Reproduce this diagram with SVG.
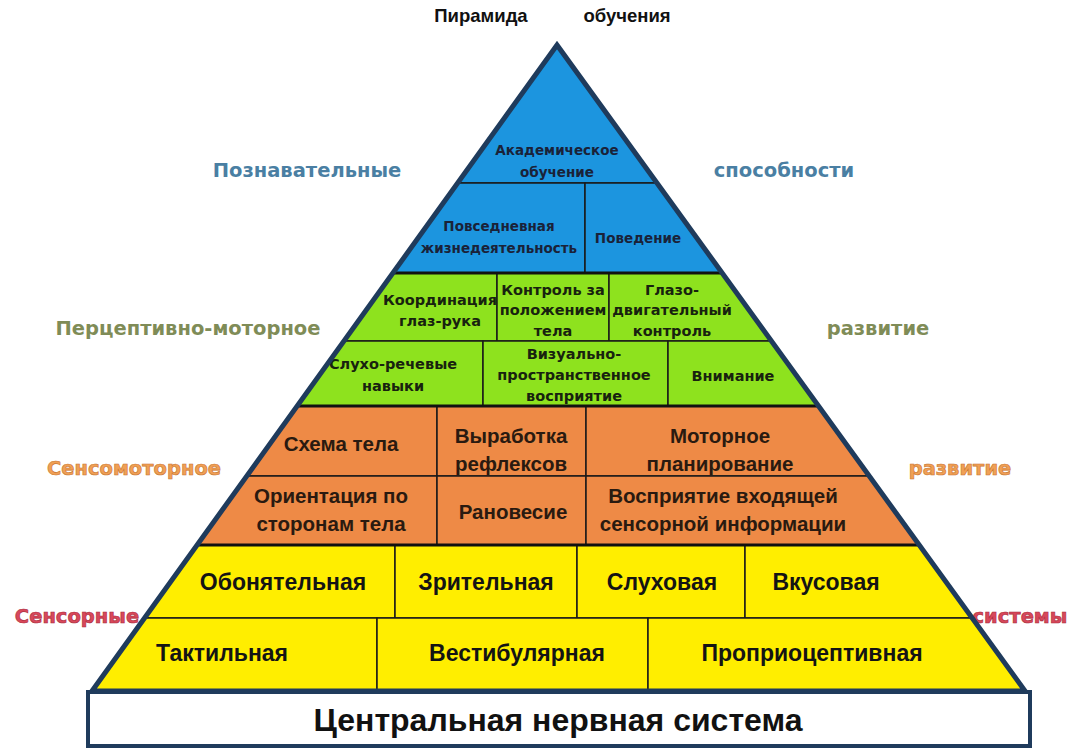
<svg xmlns="http://www.w3.org/2000/svg" width="1071" height="756" viewBox="0 0 1071 756">
<style>
.cell{stroke:#1a1a1a;stroke-width:1.5;stroke-linejoin:miter}
.blue{fill:#1c95df}
.green{fill:#8ee21e}
.orange{fill:#ee8a46}
.yellow{fill:#ffee00}
.tb{font-family:"DejaVu Sans",sans-serif;font-weight:bold;font-size:13.5px;fill:#1a2238;text-anchor:middle}
.tg{font-family:"DejaVu Sans",sans-serif;font-weight:bold;font-size:14.5px;fill:#18220f;text-anchor:middle}
.to{font-family:"Liberation Sans",Arial,sans-serif;font-weight:bold;font-size:20.5px;fill:#2a1a10;text-anchor:middle}
.ty{font-family:"Liberation Sans",Arial,sans-serif;font-weight:bold;font-size:23px;fill:#141414;text-anchor:middle}
.side{font-family:"DejaVu Sans",sans-serif;font-weight:bold;font-size:19.5px;text-anchor:middle}
.band{stroke:#111;stroke-width:3}
</style>
<rect width="1071" height="756" fill="#ffffff"/>
<g id="title">
<text x="481" y="22" style="font-family:'Liberation Sans',Arial,sans-serif;font-weight:bold;font-size:18.5px;fill:#111;text-anchor:middle">Пирамида</text>
<text x="627" y="22" style="font-family:'Liberation Sans',Arial,sans-serif;font-weight:bold;font-size:18.5px;fill:#111;text-anchor:middle">обучения</text>
</g>
<g id="side-labels">
<text class="side" x="307" y="177" fill="#4a7fa3">Познавательные</text>
<text class="side" x="784" y="177" fill="#4a7fa3">способности</text>
<text class="side" x="188" y="335" fill="#7f8c57">Перцептивно-моторное</text>
<text class="side" x="878" y="335" fill="#7f8c57">развитие</text>
<text class="side" x="134" y="475" fill="#f0a055" stroke="#c9742f" stroke-width="0.6">Сенсомоторное</text>
<text class="side" x="960" y="475" fill="#f0a055" stroke="#c9742f" stroke-width="0.6">развитие</text>
<text class="side" x="77" y="623" fill="#d8485a" stroke="#a8283a" stroke-width="0.6">Сенсорные</text>
<text class="side" x="1020" y="623" fill="#d8485a" stroke="#a8283a" stroke-width="0.6">системы</text>
</g>
<g id="academic"><polygon class="cell blue" points="557,45 657,183 457.7,183"/>
<text class="tb" x="557" y="155">Академическое</text><text class="tb" x="557" y="177">обучение</text></g>
<g id="daily"><polygon class="cell blue" points="457.7,183 585,183 585,273 392.9,273"/>
<text class="tb" x="499" y="231">Повседневная</text><text class="tb" x="499" y="253">жизнедеятельность</text></g>
<g id="behavior"><polygon class="cell blue" points="585,183 657,183 722.2,273 585,273"/>
<text class="tb" x="638" y="243">Поведение</text></g>
<g id="eye-hand"><polygon class="cell green" points="392.9,273 497,273 497,341 344,341"/>
<text class="tg" x="440" y="305">Координация</text><text class="tg" x="440" y="326">глаз-рука</text></g>
<g id="body-position"><polygon class="cell green" points="497,273 609,273 609,341 497,341"/>
<text class="tg" x="553" y="295">Контроль за</text><text class="tg" x="553" y="315">положением</text><text class="tg" x="553" y="336">тела</text></g>
<g id="oculomotor"><polygon class="cell green" points="609,273 722.2,273 771.5,341 609,341"/>
<text class="tg" x="672" y="295">Глазо-</text><text class="tg" x="672" y="315">двигательный</text><text class="tg" x="672" y="336">контроль</text></g>
<g id="auditory-speech"><polygon class="cell green" points="344,341 483,341 483,406 297.1,406"/>
<text class="tg" x="393" y="369">Слухо-речевые</text><text class="tg" x="393" y="391">навыки</text></g>
<g id="visual-spatial"><polygon class="cell green" points="483,341 668,341 668,406 483,406"/>
<text class="tg" x="574" y="359">Визуально-</text><text class="tg" x="574" y="380">пространственное</text><text class="tg" x="574" y="401">восприятие</text></g>
<g id="attention"><polygon class="cell green" points="668,341 771.5,341 818.5,406 668,406"/>
<text class="tg" x="733" y="381">Внимание</text></g>
<g id="body-scheme"><polygon class="cell orange" points="297.1,406 437,406 437,476 246.8,476"/>
<text class="to" x="341" y="451">Схема тела</text></g>
<g id="reflexes"><polygon class="cell orange" points="437,406 586,406 586,476 437,476"/>
<text class="to" x="511" y="443">Выработка</text><text class="to" x="511" y="471">рефлексов</text></g>
<g id="motor-planning"><polygon class="cell orange" points="586,406 818.5,406 869.3,476 586,476"/>
<text class="to" x="720" y="443">Моторное</text><text class="to" x="720" y="471">планирование</text></g>
<g id="body-sides"><polygon class="cell orange" points="246.8,476 437,476 437,545 197.1,545"/>
<text class="to" x="331" y="503">Ориентация по</text><text class="to" x="331" y="531">сторонам тела</text></g>
<g id="balance"><polygon class="cell orange" points="437,476 586,476 586,545 437,545"/>
<text class="to" x="513" y="519">Рановесие</text></g>
<g id="sensory-input"><polygon class="cell orange" points="586,476 869.3,476 919.3,545 586,545"/>
<text class="to" x="723" y="503">Восприятие входящей</text><text class="to" x="723" y="531">сенсорной информации</text></g>
<g id="olfactory"><polygon class="cell yellow" points="197.1,545 395,545 395,618 144.6,618"/>
<text class="ty" x="283" y="590">Обонятельная</text></g>
<g id="visual"><polygon class="cell yellow" points="395,545 577,545 577,618 395,618"/>
<text class="ty" x="486" y="590">Зрительная</text></g>
<g id="auditory"><polygon class="cell yellow" points="577,545 745,545 745,618 577,618"/>
<text class="ty" x="662" y="590">Слуховая</text></g>
<g id="gustatory"><polygon class="cell yellow" points="745,545 919.3,545 972.1,618 745,618"/>
<text class="ty" x="826" y="590">Вкусовая</text></g>
<g id="tactile"><polygon class="cell yellow" points="144.6,618 377,618 377,691 92,691"/>
<text class="ty" x="222" y="661">Тактильная</text></g>
<g id="vestibular"><polygon class="cell yellow" points="377,618 648,618 648,691 377,691"/>
<text class="ty" x="517" y="661">Вестибулярная</text></g>
<g id="proprioceptive"><polygon class="cell yellow" points="648,618 972.1,618 1025,691 648,691"/>
<text class="ty" x="812" y="661">Проприоцептивная</text></g>
<g id="connectors">
<line class="band" x1="392.9" y1="273" x2="722.2" y2="273"/>
<line class="band" x1="297.1" y1="406" x2="818.5" y2="406"/>
<line class="band" x1="197.1" y1="545" x2="919.3" y2="545"/>
<polygon points="557,45 1025,691 92,691" fill="none" stroke="#1f3b5c" stroke-width="5" stroke-linejoin="miter" stroke-miterlimit="10"/>
</g>
<g id="cns">
<rect x="88" y="692" width="942" height="54" fill="#ffffff" stroke="#1f3b5c" stroke-width="4"/>
<text x="558" y="731" style="font-family:'Liberation Sans',Arial,sans-serif;font-weight:bold;font-size:32px;fill:#111;text-anchor:middle">Центральная нервная система</text>
</g>
</svg>
